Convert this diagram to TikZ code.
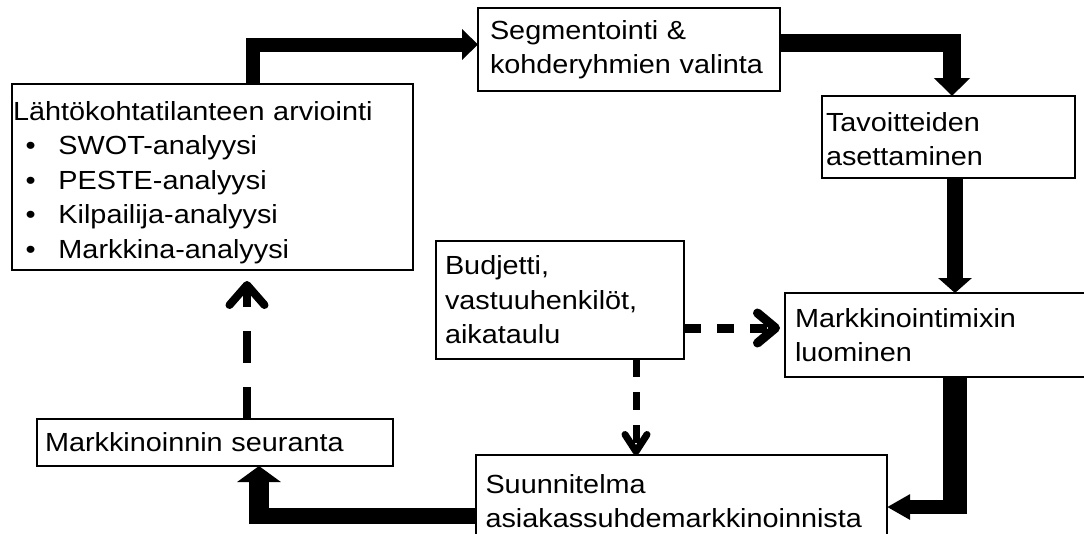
\documentclass[tikz,border=0pt]{standalone}
\usepackage{fontspec}
\setmainfont{Liberation Sans}[FakeStretch=1.1]
\usetikzlibrary{arrows.meta}

\newcommand{\luettelo}[1]{\leavevmode\rlap{\hspace{12.5pt}•}\hspace{45.5pt}#1}

\begin{document}
\begin{tikzpicture}[x=1pt, y=-1pt, line join=miter,
    laatikko/.style = {draw, line width=2.5pt, outer sep=0pt, inner ysep=0pt,
        align=left, anchor=north west, font=\fontsize{26.2}{34.5}\selectfont}]

            \clip (0,0) rectangle (1084,533);

            \node[laatikko, minimum width=401pt, minimum height=186pt,
                inner xsep=1pt, text width=399pt] (lahto) at (12,84)
            {\rule{0pt}{30pt}Lähtökohtatilanteen arviointi\\
             \luettelo{SWOT-analyysi}\\
             \luettelo{PESTE-analyysi}\\
             \luettelo{Kilpailija-analyysi}\\
             \luettelo{Markkina-analyysi}};

            \node[laatikko, minimum width=302pt, minimum height=83pt,
                inner xsep=12pt, text width=278pt] (segm) at (478,8)
            {Segmentointi \&\\ kohderyhmien~valinta};

            \node[laatikko, minimum width=253pt, minimum height=82pt,
                inner xsep=4pt, text width=245pt] (tav) at (822,96)
            {\rule{0pt}{23pt}Tavoitteiden\\ asettaminen};

            \node[laatikko, minimum width=310pt, minimum height=84pt,
                inner xsep=10pt, text width=290pt] (mix) at (785,293)
            {Markkinointimixin\\ luominen};

            \node[laatikko, minimum width=248pt, minimum height=118pt,
                inner xsep=9pt, text width=230pt] (budj) at (436,241)
            {Budjetti,\\ vastuuhenkilöt,\\ aikataulu};

            \node[laatikko, minimum width=411pt, minimum height=92pt,
                inner xsep=9.5pt, text width=392pt] (suun) at (476,455)
            {Suunnitelma\\ asiakassuhdemarkkinoinnista};

            \node[laatikko, minimum width=356pt, minimum height=47pt,
                inner xsep=8pt, text width=340pt] (seur) at (37,419)
            {Markkinoinnin seuranta};

            \coordinate (kulma1) at (955,514);
            \coordinate (kulma2) at (259,524);

            \draw [line width=14pt, -{Triangle[width=30pt,length=16pt]}]
            ([xshift=40.5pt]lahto.north) |- ([yshift=5pt]segm.west);

            \draw [line width=18pt, -{Triangle[width=35pt,length=18pt]}]
            ([yshift=7pt]segm.east) -| ([xshift=3.5pt]tav.north);

            \draw [line width=16pt, -{Triangle[width=33pt,length=15pt]}]
            ([xshift=6.5pt]tav.south) -- ([xshift=6.5pt]tav.south |- mix.north);

            \draw [line width=24pt]
            ([xshift=15pt]mix.south) -- (kulma1);

            \draw [line width=14pt, -{Triangle[width=24pt,length=23pt]}]
            ([xshift=12pt,yshift=7pt]kulma1) -- ([yshift=-6pt]suun.east);

            \draw [line width=16pt]
            ([yshift=-15pt]suun.west) -- ([xshift=-10pt,yshift=8pt]kulma2);

            \draw [line width=20pt, -{Triangle[width=43pt,length=16pt]}]
            (kulma2) -- ([xshift=44pt]seur.south);

            \draw [line width=8pt, dash pattern=on 32pt off 24pt, shorten >=11pt,
                -{Straight Barb[width=35pt,length=20pt,round]}]
            ([xshift=32pt]seur.north) -- ([xshift=32pt]seur.north |- lahto.south);

            \draw [line width=9pt, dash pattern=on 17pt off 16pt, shorten >=5pt,
                -{Straight Barb[width=30pt,length=18pt,round]}]
            ([yshift=-28pt]budj.east) -- ([yshift=-28pt]budj.east -| mix.west);

            \draw [line width=7pt, dash pattern=on 18pt off 15pt,
                -{Straight Barb[width=22pt,length=17pt,round]}]
            ([xshift=76pt]budj.south) -- ([xshift=76pt]budj.south |- suun.north);
        \end{tikzpicture}
\end{document}
